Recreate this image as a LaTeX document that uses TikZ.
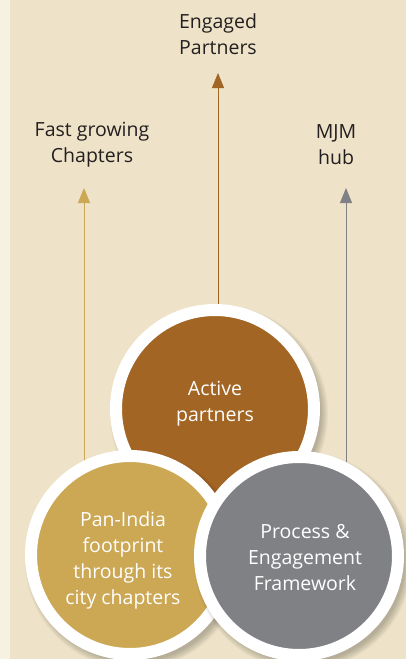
\documentclass[tikz,border=0pt]{standalone}
\usepackage{fontspec}
\setmainfont{Open Sans}
\usetikzlibrary{arrows.meta}
\definecolor{bgpaper}{HTML}{EEE3C8}
\definecolor{bgstripe}{HTML}{F6F1E1}
\definecolor{rust}{HTML}{A36524}
\definecolor{ochre}{HTML}{CCA754}
\definecolor{slate}{HTML}{808185}
\definecolor{ink}{HTML}{231F20}
\tikzset{
  disc/.style={circle, draw=white, line width=12pt, minimum size=198pt, inner sep=0pt},
  disctext/.style={text=white, align=center, font=\fontsize{19.5}{26}\selectfont},
  outertext/.style={text=ink, align=center, font=\fontsize{19.5}{26}\selectfont},
  riser/.style={line width=1pt, -{Triangle[width=12pt,length=15pt]}},
}
\newcommand{\softshadow}[2]{%
  \foreach \k in {0,...,9}{\fill[black,opacity=0.022] (#1) ++(4,5) circle ({#2+\k*0.8-3});}}
\begin{document}
\begin{tikzpicture}[x=1pt,y=-1pt]
\useasboundingbox (0,0) rectangle (406,659);
\fill[bgpaper] (0,0) rectangle (406,659);
\fill[bgstripe] (0,0) rectangle (10,659);

% labels above the circles
\node[outertext] (eng) at (218,34) {Engaged\\Partners};
\node[outertext] (fast) at (92,145) {Fast growing\\Chapters};
\node[outertext] (mjm) at (336,145) {MJM\\hub};

% arrow tips and bases
\coordinate (engTip) at (218,73);
\coordinate (fastTip) at (84,188);
\coordinate (mjmTip) at (346,188);
\coordinate (engBase) at (218,320);
\coordinate (fastBase) at (84,500);
\coordinate (mjmBase) at (346,500);

\draw[riser, rust] (engBase) -- (engTip);
\draw[riser, ochre] (fastBase) -- (fastTip);
\draw[riser, slate] (mjmBase) -- (mjmTip);

% the three overlapping circles
\coordinate (cAct) at (215,409);
\coordinate (cPan) at (130,555);
\coordinate (cPro) at (299,556);

\softshadow{cAct}{105}
\node[disc, fill=rust] (act) at (cAct) {};
\node[disctext] (actT) at ([yshift=5pt]cAct) {Active\\partners};

\softshadow{cPan}{105}
\node[disc, fill=ochre] (pan) at (cPan) {};
\node[disctext] (panT) at ([xshift=-7pt,yshift=-5pt]cPan) {Pan-India\\footprint\\through its\\city chapters};

\softshadow{cPro}{105}
\node[disc, fill=slate] (pro) at (cPro) {};
\node[disctext] (proT) at ([xshift=6pt,yshift=-2pt]cPro) {Process \&\\Engagement\\Framework};
\end{tikzpicture}
\end{document}
